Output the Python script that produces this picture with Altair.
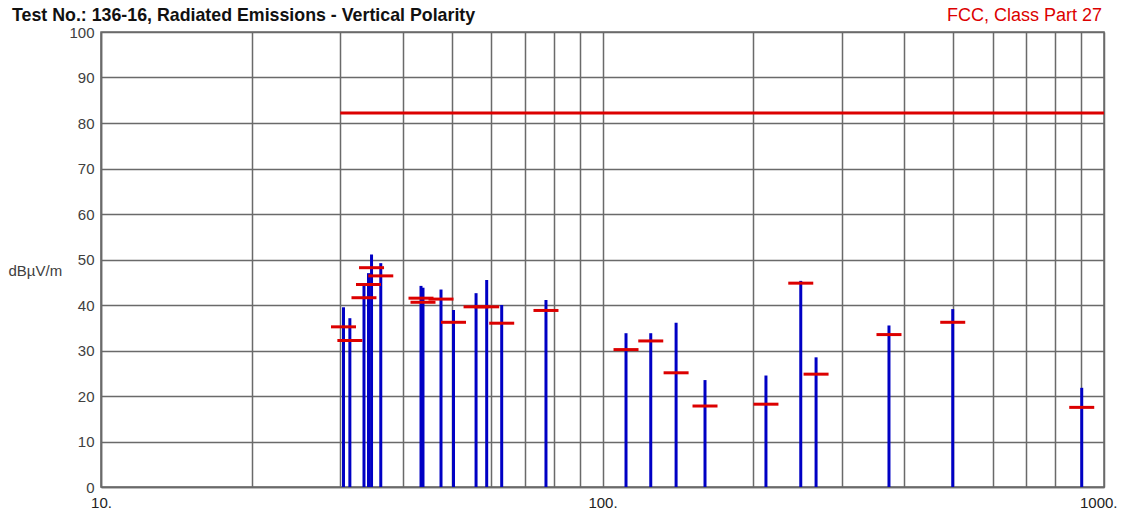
import altair as alt
import pandas as pd

# ---- data ----
freq = [30.45, 31.35, 33.45, 34.15, 34.63, 36.13, 43.46, 43.86, 47.64, 50.46,
        55.96, 58.76, 62.95, 77.14, 111.4, 124.8, 140.2, 160.1, 211.8, 248.5,
        266.6, 372.6, 499.3, 902.8]
peak = [39.5, 37.1, 44.4, 47.0, 51.1, 49.2, 44.2, 43.8, 43.4, 38.9,
        42.6, 45.5, 40.0, 41.1, 33.8, 33.8, 36.1, 23.5, 24.5, 45.3,
        28.5, 35.5, 39.1, 21.8]
qp = [35.2, 32.2, 41.6, 44.5, 48.2, 46.4, 41.5, 40.6, 41.3, 36.2,
      39.6, 39.6, 36.0, 38.8, 30.2, 32.1, 25.1, 17.8, 18.2, 44.8,
      24.8, 33.5, 36.2, 17.5]
limit_freq = [30, 1000]
limit_level = [82.2, 82.2]
x_grid = [10, 20, 30, 40, 50, 60, 70, 80, 90,
          100, 200, 300, 400, 500, 600, 700, 800, 900, 1000]
y_ticks = [0, 10, 20, 30, 40, 50, 60, 70, 80, 90, 100]
title_text = "Test No.: 136-16, Radiated Emissions - Vertical Polarity"
limit_name = "FCC, Class Part 27"
y_unit = "dBµV/m"

df = pd.DataFrame({"freq": freq, "peak": peak, "qp": qp, "zero": [0] * len(freq)})
lim = pd.DataFrame({"freq": limit_freq, "level": limit_level})

FONT = "Liberation Sans"
GRID = "#6a6a6a"
BLUE = "#0000c4"
RED = "#dc0000"

xscale = alt.Scale(type="log", domain=[10, 1000], nice=False)
yscale = alt.Scale(domain=[0, 100], nice=False)

xaxis = alt.Axis(
    values=x_grid,
    labelExpr="(datum.value == 10 || datum.value == 100 || datum.value == 1000) ? datum.value + '.' : ''",
    title=None, grid=True, gridColor=GRID, gridWidth=1.5, gridOpacity=1,
    ticks=False, domainColor=GRID, domainWidth=1.5,
    labelFontSize=15, labelColor="#222222", labelPadding=8,
    labelAlign={"condition": {"test": "datum.value == 1000", "value": "right"}, "value": "center"},
    labelOffset={"condition": {"test": "datum.value == 1000", "value": 13}, "value": 0},
    labelOverlap=False, labelFlush=False, labelFont=FONT,
)
yaxis = alt.Axis(
    values=y_ticks, title=y_unit, grid=True, gridColor=GRID, gridWidth=1.5,
    gridOpacity=1, ticks=False, domainColor=GRID, domainWidth=1.5,
    labelFontSize=15, labelColor="#404040", labelPadding=7, labelFont=FONT,
    titleAngle=0, titleX=-93, titleY=238, titleAlign="left",
    titleBaseline="middle", titleFontWeight="normal", titleFontSize=15,
    titleColor="#404040", titleFont=FONT,
)

bars = alt.Chart(df).mark_rule(color=BLUE, strokeWidth=3).encode(
    x=alt.X("freq:Q", scale=xscale, axis=xaxis),
    y=alt.Y("peak:Q", scale=yscale, axis=yaxis),
    y2=alt.Y2("zero:Q"),
)

ticks = alt.Chart(df).mark_tick(orient="horizontal", size=25, thickness=3,
                                color=RED, opacity=1).encode(
    x=alt.X("freq:Q", scale=xscale),
    y=alt.Y("qp:Q", scale=yscale),
)

limit = alt.Chart(lim).mark_line(color=RED, strokeWidth=3).encode(
    x=alt.X("freq:Q", scale=xscale),
    y=alt.Y("level:Q", scale=yscale),
)

title_mark = alt.Chart(pd.DataFrame({"t": [title_text]})).mark_text(
    align="left", baseline="alphabetic", fontSize=17.8, fontWeight="bold",
    font=FONT, color="#111111",
).encode(x=alt.value(-89), y=alt.value(-11), text="t:N")

limit_label = alt.Chart(pd.DataFrame({"t": [limit_name]})).mark_text(
    align="right", baseline="alphabetic", fontSize=18, font=FONT, color=RED,
).encode(x=alt.value(1001), y=alt.value(-11), text="t:N")

chart = alt.layer(bars, ticks, limit, title_mark, limit_label).properties(
    width=1003, height=455,
    autosize=alt.AutoSizeParams(type="none"),
    padding={"left": 93, "top": 24, "right": 14, "bottom": 26},
    background="white",
).configure_view(stroke=GRID, strokeWidth=1.5)

chart.save("out.html", embed_options={"renderer": "svg", "actions": False})
